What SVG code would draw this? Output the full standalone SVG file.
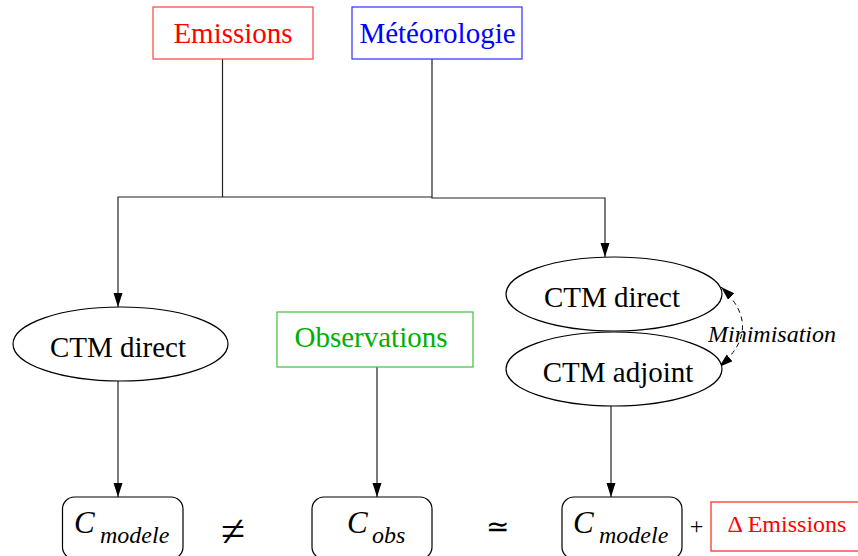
<svg xmlns="http://www.w3.org/2000/svg" width="858" height="556" viewBox="0 0 858 556">
<defs>
<style>
.t{font-family:"Liberation Serif","Times New Roman",serif;}
.n{font-size:29px;fill:#000;}
.ell{fill:#fff;stroke:#000;stroke-width:1.2;}
.rb{fill:#fff;stroke:#000;stroke-width:1.2;}
.ln{fill:none;stroke:#222;stroke-width:1.2;}
.it{font-style:italic;}
</style>
<marker id="ah2" markerUnits="userSpaceOnUse" markerWidth="16" markerHeight="10" viewBox="0 0 16 10" refX="14" refY="4.5" orient="auto-start-reverse">
<path d="M0,0 L14,4.5 L0,9 Z" fill="#000"/>
</marker>
</defs>
<rect width="858" height="556" fill="#fff"/>

<g id="connectors">
<path class="ln" d="M222.5,59 V197"/>
<path class="ln" d="M432,59 V198 H605 V257" marker-end="url(#ah2)"/>
<path class="ln" d="M432,197 H118 V307" marker-end="url(#ah2)"/>
<path class="ln" d="M118,381 V497" marker-end="url(#ah2)"/>
<path class="ln" d="M377,367 V497" marker-end="url(#ah2)"/>
<path class="ln" d="M611,406 V497" marker-end="url(#ah2)"/>
<path d="M721,287 Q765,328 719,367" fill="none" stroke="#000" stroke-width="1" stroke-dasharray="5,4" marker-start="url(#ah2)" marker-end="url(#ah2)"/>
</g>

<g id="emissions">
<rect x="153" y="7" width="160" height="52" fill="#fff" stroke="#ff4040" stroke-width="1.2"/>
<text class="t" x="233" y="43" text-anchor="middle" font-size="29" fill="#ff0000">Emissions</text>
</g>
<g id="meteorologie">
<rect x="352" y="7" width="170" height="52" fill="#fff" stroke="#3030ff" stroke-width="1.2"/>
<text class="t" x="437.5" y="43" text-anchor="middle" font-size="29" fill="#0000ff">Météorologie</text>
</g>

<g id="ctm-direct-left">
<ellipse class="ell" cx="120.5" cy="344" rx="107.5" ry="37"/>
<text class="t n" x="118" y="357" text-anchor="middle">CTM direct</text>
</g>

<g id="observations">
<rect x="277" y="312" width="196" height="55" fill="#fff" stroke="#40c040" stroke-width="1.2"/>
<text class="t" x="371" y="347" text-anchor="middle" font-size="29" fill="#00b000">Observations</text>
</g>

<g id="ctm-direct-right">
<ellipse class="ell" cx="614" cy="294" rx="108" ry="37"/>
<text class="t n" x="612" y="307" text-anchor="middle">CTM direct</text>
</g>
<g id="ctm-adjoint">
<ellipse class="ell" cx="614" cy="369" rx="108" ry="37"/>
<text class="t n" x="618" y="382" text-anchor="middle">CTM adjoint</text>
</g>
<g id="minimisation-label">
<text class="t it" x="772" y="342" text-anchor="middle" font-size="24" fill="#000">Minimisation</text>
</g>

<g id="c-modele-1">
<rect class="rb" x="62.5" y="497" width="120.5" height="62" rx="12"/>
<text class="t it" x="74" y="533" font-size="31">C</text>
<text class="t it" x="100" y="543" font-size="24">modele</text>
</g>
<g id="neq">
<text class="t" x="233" y="546" text-anchor="middle" font-size="44">≠</text>
</g>
<g id="c-obs">
<rect class="rb" x="312" y="497" width="120" height="62" rx="12"/>
<text class="t it" x="347" y="533" font-size="31">C</text>
<text class="t it" x="372" y="543" font-size="24">obs</text>
</g>
<g id="simeq">
<text class="t" x="497" y="536" text-anchor="middle" font-size="28">≃</text>
</g>
<g id="c-modele-2">
<rect class="rb" x="562" y="497" width="120" height="62" rx="12"/>
<text class="t it" x="573" y="533" font-size="31">C</text>
<text class="t it" x="599" y="543" font-size="24">modele</text>
</g>
<g id="plus">
<text class="t" x="696.5" y="534" text-anchor="middle" font-size="24">+</text>
</g>
<g id="delta-emissions">
<rect x="711" y="502" width="148" height="49" fill="#fff" stroke="#ff2020" stroke-width="1.2"/>
<text class="t" x="787" y="532" text-anchor="middle" font-size="24" fill="#ff0000">Δ Emissions</text>
</g>
</svg>
